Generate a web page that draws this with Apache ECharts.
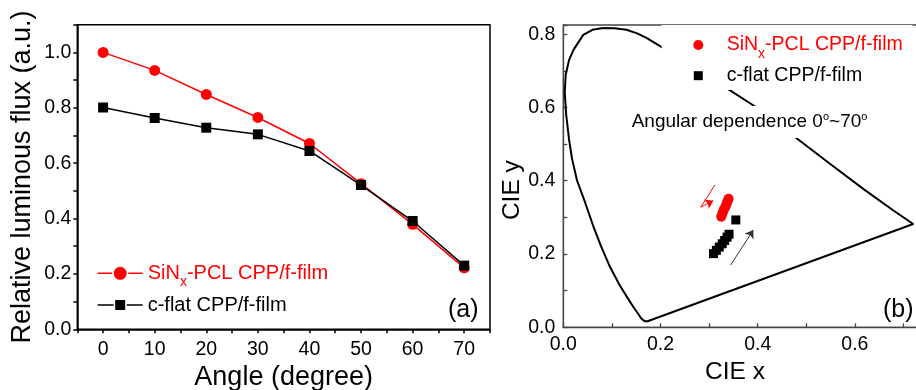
<!DOCTYPE html>
<html><head><meta charset="utf-8">
<script src="https://cdn.jsdelivr.net/npm/echarts@6/dist/echarts.min.js"></script>
<style>html,body{margin:0;padding:0;background:#fff}#c{width:916px;height:390px}</style>
</head><body><div id="c"></div>
<script>
// ---- data ----
const angles = [0, 10, 20, 30, 40, 50, 60, 70];
const fluxSiNx = [1.0, 0.935, 0.848, 0.765, 0.671, 0.526, 0.379, 0.222];
const fluxFlat = [0.801, 0.763, 0.728, 0.704, 0.644, 0.521, 0.391, 0.230];

const cieSiNxX = [0.325, 0.327, 0.329, 0.331, 0.334, 0.336, 0.338, 0.340];
const cieSiNxY = [0.302, 0.309, 0.316, 0.323, 0.330, 0.337, 0.344, 0.351];
const cieFlatX = [0.309, 0.315, 0.321, 0.327, 0.332, 0.337, 0.341, 0.355];
const cieFlatY = [0.201, 0.210, 0.219, 0.228, 0.237, 0.246, 0.254, 0.293];

const locusX = [0.172, 0.166, 0.160, 0.154, 0.146, 0.137, 0.116, 0.096, 0.078, 0.062, 0.045, 0.028, 0.018, 0.012, 0.006, 0.003, 0.005, 0.012, 0.021, 0.041, 0.060, 0.082, 0.105, 0.130, 0.152, 0.172, 0.2024, 0.27, 0.3416, 0.393, 0.44, 0.48, 0.55, 0.62, 0.68, 0.72, 0.172];
const locusY = [0.016, 0.018, 0.025, 0.037, 0.052, 0.070, 0.115, 0.165, 0.220, 0.275, 0.340, 0.402, 0.460, 0.511, 0.580, 0.640, 0.690, 0.730, 0.757, 0.798, 0.812, 0.817, 0.816, 0.812, 0.802, 0.789, 0.7645, 0.705, 0.648, 0.604, 0.560, 0.516, 0.445, 0.375, 0.318, 0.282, 0.016];

const arrowFlatX = [0.3444, 0.391];
const arrowFlatY = [0.170, 0.2657];
const arrowSiNxX = [0.312, 0.283, 0.3086];
const arrowSiNxY = [0.3885, 0.328, 0.3457];

const nameSiNx = 'SiNx-PCL CPP/f-film';
const nameFlat = 'c-flat CPP/f-film';
const nameSiNxCIE = 'SiNx-PCL CPP/f-film (CIE)';
const nameFlatCIE = 'c-flat CPP/f-film (CIE)';
const xTickLabelsA = ['0', '10', '20', '30', '40', '50', '60', '70'];
const yTickLabelsA = ['0.0', '0.2', '0.4', '0.6', '0.8', '1.0'];
const xTickLabelsB = ['0.0', '0.2', '0.4', '0.6'];
const yTickLabelsB = ['0.0', '0.2', '0.4', '0.6', '0.8'];

// ---- chart ----
const FONT = 'Liberation Sans, Arial, sans-serif';
const zip = (xs, ys) => xs.map((x, i) => [x, ys[i]]);
const labelFrom = (list) => (v) => {
  for (const s of list) if (Math.abs(parseFloat(s) - v) < 1e-6) return s;
  return '';
};
const richSub = (color) => ({
  sub: { fontSize: 14, lineHeight: 14, verticalAlign: 'bottom', color: color, fontFamily: FONT }
});
const legendFmt = (n) => n.startsWith('SiNx') ? 'SiN{sub|x}-PCL CPP/f-film' : 'c-flat CPP/f-film';

// legend icons: line - marker - line (45 x 13 box)
const iconCircleLine = 'path://M0,5.75H14.5V7.25H0Z M30.5,5.75H45V7.25H30.5Z M16,6.5A6.5,6.5 0 1,1 29,6.5A6.5,6.5 0 1,1 16,6.5Z';
const iconRectLine = 'path://M0,5.75H16V7.25H0Z M29,5.75H45V7.25H29Z M17.5,1.5H27.5V11.5H17.5Z M0,0H0.01V13H0Z';

const chart = echarts.init(document.getElementById('c'), null, { renderer: 'canvas' });
const axA = '#000', axB = '#444';
chart.setOption({
  animation: false,
  textStyle: { fontFamily: FONT },
  grid: [
    { left: 77.3, top: 24.7, right: 426, bottom: 60.7, show: true, borderColor: axA, borderWidth: 1.5, outerBoundsMode: 'none' },
    { left: 563.3, top: 25, right: -11.8, bottom: 62.7, show: true, borderColor: axB, borderWidth: 1.3, outerBoundsMode: 'none' }
  ],
  xAxis: [
    { type: 'value', gridIndex: 0, min: -5, max: 75, interval: 5,
      axisLine: { show: true, onZero: false, lineStyle: { color: axA, width: 1.5 } },
      axisTick: { show: true, length: 4, lineStyle: { color: axA, width: 1.5 } },
      axisLabel: { margin: 10, fontSize: 19.5, color: '#000', formatter: labelFrom(xTickLabelsA) },
      splitLine: { show: false },
      name: 'Angle (degree)', nameLocation: 'middle', nameGap: 34,
      nameTextStyle: { fontSize: 27, color: '#000' } },
    { type: 'value', gridIndex: 1, min: 0, max: 0.75, interval: 0.1,
      axisLine: { show: true, onZero: false, lineStyle: { color: axB, width: 1.3 } },
      axisTick: { show: true, inside: true, length: 4, lineStyle: { color: axB, width: 1.3 } },
      axisLabel: { margin: 7, fontSize: 19.5, color: '#000', formatter: labelFrom(xTickLabelsB) },
      splitLine: { show: false },
      name: 'CIE x', nameLocation: 'middle', nameGap: 32.5,
      nameTextStyle: { fontSize: 24.5, color: '#000', padding: [0, 21, 0, 0] } }
  ],
  yAxis: [
    { type: 'value', gridIndex: 0, min: 0, max: 1.1, interval: 0.1,
      axisLine: { show: true, onZero: false, lineStyle: { color: axA, width: 1.5 } },
      axisTick: { show: true, length: 4, lineStyle: { color: axA, width: 1.5 } },
      axisLabel: { margin: 6, fontSize: 19.5, color: '#000', formatter: labelFrom(yTickLabelsA) },
      splitLine: { show: false },
      name: 'Relative luminous flux (a.u.)', nameLocation: 'middle', nameGap: 41,
      nameTextStyle: { fontSize: 27, color: '#000' } },
    { type: 'value', gridIndex: 1, min: 0, max: 0.825, interval: 0.1,
      axisLine: { show: true, onZero: false, lineStyle: { color: axB, width: 1.3 } },
      axisTick: { show: true, inside: true, length: 4, lineStyle: { color: axB, width: 1.3 } },
      axisLabel: { margin: 8, fontSize: 19.5, color: '#000', formatter: labelFrom(yTickLabelsB) },
      splitLine: { show: false },
      name: 'CIE y', nameLocation: 'middle', nameGap: 38.5,
      nameTextStyle: { fontSize: 24.5, color: '#000', padding: [0, 28, 0, 0] } }
  ],
  legend: [
    { data: [{ name: nameSiNx, icon: iconCircleLine }], orient: 'vertical', left: 97.7, top: 257.3, padding: 0, selectedMode: false,
      itemWidth: 45, itemHeight: 13, formatter: legendFmt, itemStyle: { color: '#ff0000' },
      textStyle: { fontSize: 20, color: '#ff0000', lineHeight: 32, rich: richSub('#ff0000') } },
    { data: [{ name: nameFlat, icon: iconRectLine }], orient: 'vertical', left: 97.7, top: 295, padding: 0, selectedMode: false,
      itemWidth: 45, itemHeight: 13, formatter: legendFmt, itemStyle: { color: '#000' },
      textStyle: { fontSize: 20, color: '#000', lineHeight: 20 } },
    { data: [nameSiNxCIE], orient: 'vertical', left: 661.7, top: 25, padding: [4, 10, 3, 31.6], selectedMode: false,
      backgroundColor: '#fff', itemWidth: 10, itemHeight: 10, formatter: legendFmt,
      textStyle: { fontSize: 19.5, color: '#ff0000', lineHeight: 32, padding: [0, 0, 0, 18.4], rich: richSub('#ff0000') } },
    { data: [nameFlatCIE], orient: 'vertical', left: 661.7, top: 62.7, padding: [3, 10, 4.3, 32.1], selectedMode: false,
      backgroundColor: '#fff', itemWidth: 9, itemHeight: 9, formatter: legendFmt,
      textStyle: { fontSize: 19.5, color: '#000', lineHeight: 20, padding: [0, 0, 0, 18.9] } }
  ],
  title: [
    { text: 'Angular dependence 0{sup|o}~70{sup|o}', left: 627.7, top: 106, padding: [5, 4, 6, 4],
      backgroundColor: '#fff',
      textStyle: { fontSize: 19, fontWeight: 'normal', color: '#000', lineHeight: 21,
        rich: { sup: { fontSize: 11, lineHeight: 11, verticalAlign: 'top', color: '#000' } } } }
  ],
  graphic: [
    { type: 'text', left: 448, top: 298, style: { text: '(a)', fill: '#000', font: '25px ' + FONT } },
    { type: 'text', left: 883, top: 298, style: { text: '(b)', fill: '#000', font: '25px ' + FONT } }
  ],
  series: [
    { name: nameSiNx, type: 'line', xAxisIndex: 0, yAxisIndex: 0, data: zip(angles, fluxSiNx),
      symbol: 'circle', symbolSize: 11, lineStyle: { color: '#ff0000', width: 1.5 }, itemStyle: { color: '#ff0000' } },
    { name: nameFlat, type: 'line', xAxisIndex: 0, yAxisIndex: 0, data: zip(angles, fluxFlat),
      symbol: 'rect', symbolSize: 10, lineStyle: { color: '#000', width: 1.5 }, itemStyle: { color: '#000' } },
    { name: 'locus', type: 'line', xAxisIndex: 1, yAxisIndex: 1, data: zip(locusX, locusY),
      symbol: 'none', lineStyle: { color: '#000', width: 2 }, silent: true, z: 1 },
    { name: nameSiNxCIE, type: 'scatter', xAxisIndex: 1, yAxisIndex: 1, data: zip(cieSiNxX, cieSiNxY),
      symbol: 'circle', symbolSize: 10, itemStyle: { color: '#ff0000', opacity: 1 } },
    { name: nameFlatCIE, type: 'scatter', xAxisIndex: 1, yAxisIndex: 1, data: zip(cieFlatX, cieFlatY),
      symbol: 'rect', symbolSize: 9, itemStyle: { color: '#000', opacity: 1 } },
    { name: 'arrowTail', type: 'lines', coordinateSystem: 'cartesian2d', xAxisIndex: 1, yAxisIndex: 1,
      symbol: ['none', 'none'], silent: true,
      data: [
        { coords: zip(arrowSiNxX.slice(0, 2), arrowSiNxY.slice(0, 2)), lineStyle: { color: '#ff0000', width: 1, opacity: 1 } }
      ] },
    { name: 'arrowHeads', type: 'lines', coordinateSystem: 'cartesian2d', xAxisIndex: 1, yAxisIndex: 1,
      symbol: ['none', 'arrow'], symbolSize: 8, silent: true,
      data: [
        { coords: zip(arrowFlatX, arrowFlatY), lineStyle: { color: '#333', width: 1, opacity: 1 } },
        { coords: zip(arrowSiNxX.slice(1), arrowSiNxY.slice(1)), lineStyle: { color: '#ff0000', width: 1, opacity: 1 } }
      ] }
  ]
});
</script></body></html>
